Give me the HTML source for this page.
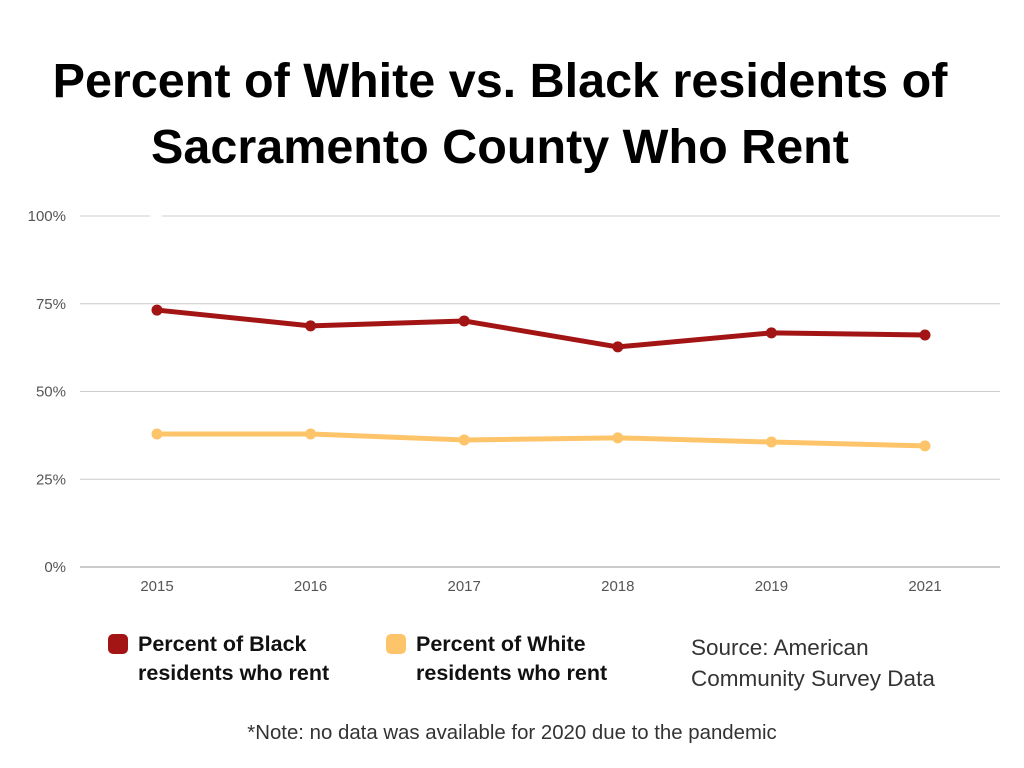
<!DOCTYPE html>
<html><head><meta charset="utf-8"><style>
body{margin:0;width:1024px;height:768px;background:#fff;font-family:"Liberation Sans",sans-serif;overflow:hidden;position:relative}
.t{position:absolute;white-space:nowrap}
</style></head><body>
<div class="t" style="left:0;width:1000px;top:48px;text-align:center;font-size:48.5px;font-weight:bold;line-height:66px;color:#000">Percent of White vs. Black residents of<br>Sacramento County Who Rent</div>
<svg id="chart" width="1024" height="620" style="position:absolute;left:0;top:0"></svg>
<div class="t" style="left:108px;top:630px;font-size:21.5px;font-weight:bold;line-height:29px;color:#111"><span style="position:absolute;left:0;top:4px;width:20px;height:20px;border-radius:5px;background:#a31515"></span><span style="margin-left:30px;display:inline-block">Percent of Black<br>residents who rent</span></div>
<div class="t" style="left:386px;top:630px;font-size:21.5px;font-weight:bold;line-height:29px;color:#111"><span style="position:absolute;left:0;top:4px;width:20px;height:20px;border-radius:5px;background:#fdc46a"></span><span style="margin-left:30px;display:inline-block">Percent of White<br>residents who rent</span></div>
<div class="t" style="left:691px;top:632px;font-size:22.5px;line-height:31px;color:#333">Source: American<br>Community Survey Data</div>
<div class="t" style="left:0;width:1024px;text-align:center;top:722px;font-size:20.4px;color:#333">*Note: no data was available for 2020 due to the pandemic</div>
<script>
const categories=["2015","2016","2017","2018","2019","2021"];
const blackValues=[73.2,68.7,70.1,62.7,66.7,66.1];
const whiteValues=[37.9,37.9,36.2,36.8,35.6,34.5];
const yTicks=[0,25,50,75,100];
const svg=document.getElementById('chart');
const NS="http://www.w3.org/2000/svg";
const x=i=>157+i*153.6;
const y=v=>567-v*3.51;
function mk(t,a){const e=document.createElementNS(NS,t);for(const k in a)e.setAttribute(k,a[k]);svg.appendChild(e);return e;}
yTicks.forEach(v=>{
  const l=mk('line',{x1:80,x2:1000,y1:y(v),y2:y(v),stroke:v===0?'#999':'#ccc','stroke-width':1});
  if(v===100)l.setAttribute('stroke-dasharray','70 12 1000');
  
  
  const t=mk('text',{x:66,y:y(v)+5,'text-anchor':'end','font-size':15,fill:'#555','font-family':'Liberation Sans,sans-serif'});
  t.textContent=v+'%';
  
  
});
categories.forEach((c,i)=>{
  const t=mk('text',{x:x(i),y:591,'text-anchor':'middle','font-size':15,fill:'#555','font-family':'Liberation Sans,sans-serif'});
  t.textContent=c;
  
  
});
function series(vals,color,name){
  const p=mk('polyline',{points:vals.map((v,i)=>x(i)+','+y(v)).join(' '),fill:'none',stroke:color,'stroke-width':5,'stroke-linejoin':'round'});
  
  
  vals.forEach((v,i)=>{
    const c=mk('circle',{cx:x(i),cy:y(v),r:5.5,fill:color});
    
    
  });
}
series(whiteValues,'#fdc46a','white');
series(blackValues,'#a31515','black');
</script>
</body></html>
